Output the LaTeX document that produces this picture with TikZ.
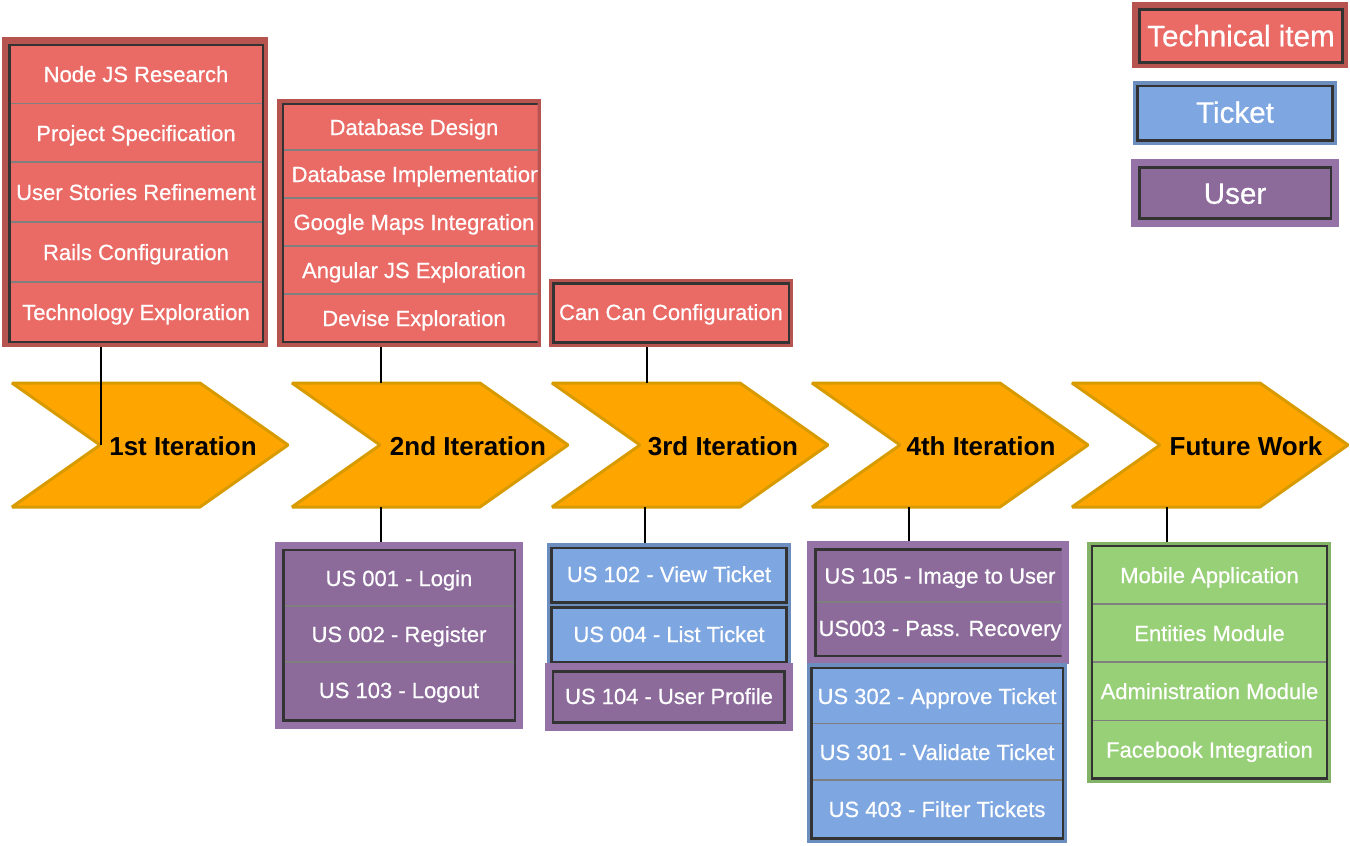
\documentclass[tikz,border=0pt]{standalone}
\usepackage{fontspec}
\setmainfont{Liberation Sans}
\newfontfamily\itemfont[FakeBold=0.6]{Liberation Sans}
\definecolor{techdark}{HTML}{B85450}
\definecolor{techfill}{HTML}{EA6B66}
\definecolor{tickdark}{HTML}{6C8EBF}
\definecolor{tickfill}{HTML}{7EA6E0}
\definecolor{userdark}{HTML}{9673A6}
\definecolor{userfill}{HTML}{8C6B9B}
\definecolor{greendark}{HTML}{82B366}
\definecolor{greenfill}{HTML}{97D077}
\definecolor{chevfill}{HTML}{FFA500}
\definecolor{chevline}{HTML}{D79B00}
\definecolor{inline}{HTML}{333333}
\definecolor{sepline}{HTML}{7F7F7F}
\newcommand\mkbox[6]{%
  \pgfmathsetmacro\mkw{#5-#3}%
  \pgfmathsetmacro\mkh{#6-#4}%
  \node[#2, minimum width=\mkw pt, minimum height=\mkh pt, inner sep=0pt, outer sep=0pt, anchor=north west] (#1) at (#3,#4) {};%
}
\newcommand\mkchev[1]{%
  \draw[chev] (#1,383) -- ++(188,0) -- ++(88,62) -- ++(-88,62) -- ++(-188,0) -- ++(88,-62) -- cycle;%
}
\tikzset{
  outerbox/.style={fill=#1, draw=none},
  innerbox/.style={fill=#1, draw=inline, line width=2.3pt},
  sep/.style={draw=sepline, line width=1.8pt},
  itm/.style={text=white, font=\itemfont\fontsize{22}{26}\selectfont, inner sep=0pt, text height=16pt, text depth=0pt},
  leg/.style={text=white, font=\itemfont\fontsize{29.6}{34}\selectfont, inner sep=0pt, text height=21.5pt, text depth=0pt},
  chev/.style={fill=chevfill, draw=chevline, line width=3pt, line join=bevel},
  chevlbl/.style={text=black, font=\bfseries\fontsize{26}{30}\selectfont, inner sep=0pt, text height=18.7pt, text depth=0pt},
  conn/.style={draw=black, line width=2pt},
}
\begin{document}
\begin{tikzpicture}[x=1pt,y=-1pt]
\useasboundingbox (0,0) rectangle (1350,846);

% ---------- chevrons ----------
\mkchev{12}
\mkchev{292}
\mkchev{552}
\mkchev{812}
\mkchev{1072}
\node[chevlbl] (l1) at (183,446) {1st Iteration};
\node[chevlbl] (l2) at (468,446) {2nd Iteration};
\node[chevlbl] (l3) at (723,446) {3rd Iteration};
\node[chevlbl] (l4) at (981,446) {4th Iteration};
\node[chevlbl] (l5) at (1246,446) {Future Work};
\coordinate (c1notch) at (101,445);
\coordinate (c2top) at (381,383);
\coordinate (c2bot) at (381,507);
\coordinate (c3top) at (647,383);
\coordinate (c3bot) at (645,507);
\coordinate (c4bot) at (909,507);
\coordinate (c5bot) at (1167,507);

% ---------- group 1 (technical) ----------
\mkbox{g1}{outerbox=techdark}{2}{37}{268}{347}
\mkbox{g1i}{innerbox=techfill}{9.5}{45}{263}{342}
\foreach \yy in {103.5,162,222,282} \draw[sep] (10.5,\yy) -- (262,\yy);
\node[itm] (t11) at (136,74) {Node JS Research};
\node[itm] (t12) at (136,133) {Project Specification};
\node[itm] (t13) at (136,192) {User Stories Refinement};
\node[itm] (t14) at (136,252) {Rails Configuration};
\node[itm] (t15) at (136,312) {Technology Exploration};

% ---------- group 2 (technical) ----------
\mkbox{g2t}{outerbox=techdark}{277}{99}{541}{347}
\begin{scope}
\clip (277,99) rectangle (537.5,347);
\mkbox{g2ti}{innerbox=techfill}{283}{104}{548}{342}
\foreach \yy in {150,198,246,294} \draw[sep] (284,\yy) -- (547,\yy);
\node[itm] (t21) at (414,127) {Database Design};
\node[itm] (t22) at (417,174) {Database Implementation};
\node[itm] (t23) at (414,222) {Google Maps Integration};
\node[itm] (t24) at (414,270) {Angular JS Exploration};
\node[itm] (t25) at (414,318) {Devise Exploration};
\end{scope}

% ---------- group 3 (technical) ----------
\mkbox{g3t}{outerbox=techdark}{549}{279}{793}{347}
\mkbox{g3ti}{innerbox=techfill}{553.5}{283.5}{789}{342.5}
\node[itm] (t31) at (671,312) {Can Can Configuration};

% ---------- group 2 (users) ----------
\mkbox{g2u}{outerbox=userdark}{275}{542}{523}{729}
\mkbox{g2ui}{innerbox=userfill}{283.5}{550}{515}{720.5}
\foreach \yy in {606,662.3} \draw[sep] (284.5,\yy) -- (514,\yy);
\node[itm] (u21) at (399,578) {US 001 - Login};
\node[itm] (u22) at (399,634) {US 002 - Register};
\node[itm] (u23) at (399,690) {US 103 - Logout};

% ---------- group 3 (tickets + user) ----------
\mkbox{g3k}{outerbox=tickdark}{547}{543}{791}{664}
\mkbox{g3k1}{innerbox=tickfill}{551.5}{548}{786.5}{602.5}
\mkbox{g3k2}{innerbox=tickfill}{551.5}{607.5}{786.5}{662.5}
\node[itm] (k31) at (669,574) {US 102 - View Ticket};
\node[itm] (k32) at (669,634) {US 004 - List Ticket};
\mkbox{g3u}{outerbox=userdark}{545}{663}{793}{731}
\mkbox{g3ui}{innerbox=userfill}{553}{671.5}{784.5}{722.5}
\node[itm] (u31) at (669,696) {US 104 - User Profile};

% ---------- group 4 (user + tickets) ----------
\mkbox{g4u}{outerbox=userdark}{807}{541}{1068.5}{664}
\begin{scope}
\clip (807,541) rectangle (1061.5,664);
\mkbox{g4ui}{innerbox=userfill}{815.5}{549.5}{1075}{656}
\draw[sep] (816.5,602) -- (1074,602);
\node[itm] (u41) at (940,575.5) {US 105 - Image to User};
\node[itm] (u42) at (940,628) {US003 - Pass. Recovery};
\end{scope}
\mkbox{g4k}{outerbox=tickdark}{807}{663}{1067}{843}
\mkbox{g4ki}{innerbox=tickfill}{811.5}{668}{1063}{838.5}
\foreach \yy in {723.5,780} \draw[sep] (812.5,\yy) -- (1062,\yy);
\node[itm] (k41) at (937,696) {US 302 - Approve Ticket};
\node[itm] (k42) at (937,752) {US 301 - Validate Ticket};
\node[itm] (k43) at (937,809) {US 403 - Filter Tickets};

% ---------- group 5 (future work) ----------
\mkbox{g5}{outerbox=greendark}{1087}{542}{1331}{783}
\mkbox{g5i}{innerbox=greenfill}{1092}{546}{1327}{778.5}
\foreach \yy in {604,662,720.5} \draw[sep] (1093,\yy) -- (1326,\yy);
\node[itm] (f1) at (1209.5,575) {Mobile Application};
\node[itm] (f2) at (1209.5,633) {Entities Module};
\node[itm] (f3) at (1209.5,691) {Administration Module};
\node[itm] (f4) at (1209.5,749.5) {Facebook Integration};

% ---------- legend ----------
\mkbox{lg1}{outerbox=techdark}{1132}{1.5}{1348}{68}
\mkbox{lg1i}{innerbox=techfill}{1139.5}{9.5}{1342.5}{62.5}
\node[leg] (lt1) at (1241,35.5) {Technical item};
\mkbox{lg2}{outerbox=tickdark}{1133}{81}{1337}{145}
\mkbox{lg2i}{innerbox=tickfill}{1137.5}{86}{1332.5}{140.5}
\node[leg] (lt2) at (1235,112) {Ticket};
\mkbox{lg3}{outerbox=userdark}{1131}{159}{1339}{227}
\mkbox{lg3i}{innerbox=userfill}{1139.5}{167.5}{1331}{218.5}
\node[leg] (lt3) at (1235,193) {User};

% ---------- connectors ----------
\draw[conn] (g1.south -| c1notch) -- (c1notch);
\draw[conn] (g2t.south -| c2top) -- (c2top);
\draw[conn] (g3t.south -| c3top) -- (c3top);
\draw[conn] (c2bot) -- (c2bot |- g2u.north);
\draw[conn] (c3bot) -- (c3bot |- g3k.north);
\draw[conn] (c4bot) -- (c4bot |- g4u.north);
\draw[conn] (c5bot) -- (c5bot |- g5.north);
\end{tikzpicture}
\end{document}
